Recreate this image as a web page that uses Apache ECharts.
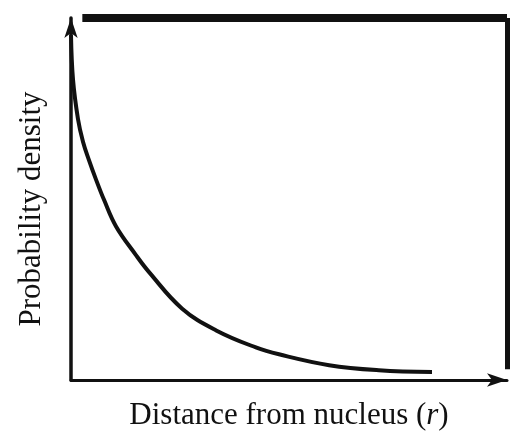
<!DOCTYPE html>
<html>
<head>
<meta charset="utf-8">
<script src="https://cdn.jsdelivr.net/npm/echarts@6/dist/echarts.min.js"></script>
<style>html,body{margin:0;padding:0;background:#fff}#c{width:512px;height:436px}</style>
</head>
<body>
<div id="c"></div>
<script>
// Distance from nucleus (arbitrary units) and probability density (relative)
const distance = [0, 0.046, 0.16, 0.275, 0.41, 0.57, 0.76, 1.03, 1.49, 1.79, 2.55, 3.33, 4.24, 4.77, 5.92, 7.06, 8.28];
const density  = [0.953, 0.830, 0.721, 0.658, 0.608, 0.555, 0.497, 0.425, 0.345, 0.298, 0.197, 0.137, 0.090, 0.071, 0.041, 0.027, 0.022];
const xTitle = 'Distance from nucleus ({i|r})';
const yTitle = 'Probability density';

const chart = echarts.init(document.getElementById('c'), null, {renderer: 'canvas'});
const font = '"Liberation Serif", "Times New Roman", serif';
chart.setOption({
  animation: false,
  backgroundColor: '#fff',
  grid: {left: 71, right: 5, top: 18, bottom: 53},
  xAxis: {
    type: 'value', min: 0, max: 10,
    name: xTitle, nameLocation: 'middle', nameGap: 20,
    nameTextStyle: {fontFamily: font, fontSize: 31, color: '#111',
      rich: {i: {fontFamily: font, fontStyle: 'italic', fontSize: 31, color: '#111'}}},
    axisLine: {show: true, lineStyle: {color: '#111', width: 3}, symbol: ['none', 'arrow'], symbolSize: [10, 20]},
    axisTick: {show: false}, axisLabel: {show: false}, splitLine: {show: false}
  },
  yAxis: {
    type: 'value', min: 0, max: 1,
    name: yTitle, nameLocation: 'middle', nameGap: 24, nameRotate: 90,
    nameTextStyle: {fontFamily: font, fontSize: 31, color: '#111', padding: [0, 20, 0, 0]},
    axisLine: {show: true, lineStyle: {color: '#111', width: 3.5}, symbol: ['none', 'arrow'], symbolSize: [10, 20]},
    axisTick: {show: false}, axisLabel: {show: false}, splitLine: {show: false}
  },
  series: [{
    type: 'line',
    data: distance.map((d, i) => [d, density[i]]),
    smooth: 0.4,
    showSymbol: false,
    lineStyle: {color: '#111', width: 4},
    markLine: {
      silent: true, symbol: 'none', label: {show: false},
      data: [
        [{coord: [0.26, 1], lineStyle: {color: '#111', width: 8, type: 'solid'}}, {coord: [10, 1]}],
        [{coord: [10, 1], lineStyle: {color: '#111', width: 5, type: 'solid'}}, {coord: [10, 0.03]}]
      ]
    }
  }]
});
</script>
</body>
</html>
